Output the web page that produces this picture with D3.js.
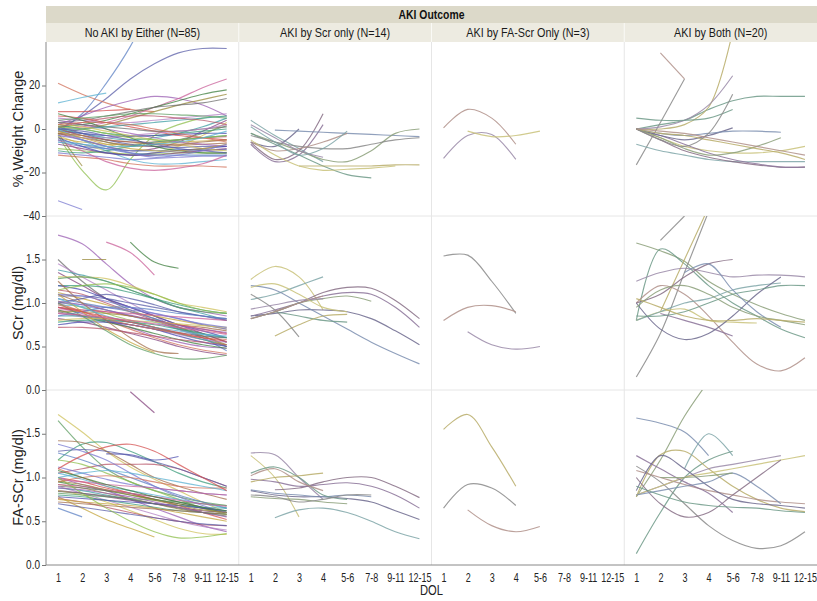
<!DOCTYPE html>
<html>
<head>
<meta charset="utf-8">
<script src="https://cdn.jsdelivr.net/npm/d3@7"></script>
<style>
  body { margin: 0; background: #fff; }
  svg { display: block; font-family: "Liberation Sans", Arial, sans-serif; }
</style>
</head>
<body>
<svg id="chart" width="817" height="601"></svg>
<script>
const W = 817, H = 601;

// categories / panels
const cats = ["1", "2", "3", "4", "5-6", "7-8", "9-11", "12-15"];
const groups = ["No AKI by Either (N=85)", "AKI by Scr only (N=14)", "AKI by FA-Scr Only (N=3)", "AKI by Both (N=20)"];
const measures = ["% Weight Change", "SCr (mg/dl)", "FA-SCr (mg/dl)"];
const yDomains = [[-40, 40], [0, 2], [0, 2]];
const yTicks = [[-40, -20, 0, 20], [0, 0.5, 1, 1.5], [0, 0.5, 1, 1.5]];
const yFormat = [d3.format("d"), d3.format(".1f"), d3.format(".1f")];

// % weight change, one row per infant, values by DOL category
const weightNoAki = [
  [0, 6, 14, 23, 30, 35, 37, 37],
  [-1, 7, 21, 38, 60],
  [-3, -19, -28, -14, -3, 2, 5, 6],
  [-33, -37],
  [21, 16, 12, 9, 8],
  [12, 14.5, 16.5],
  [8, 8, 8.5, 9],
  [2, 6, 10, 13, 15, 14, 11, 6],
  [0, 1, 3, 6, 10, 14, 19, 23],
  [1, 2, 4, 7, 10, 13, 16, 18],
  [-2, 0, 2, 5, 8, 11, 13.5, 16],
  [3, 4, 6, 8, 10, 11, 12, 14],
  [5, 4, 3, 3, 4, 5, 6, 7],
  [0, -2, -4, -5, -4, -2, 1, 5],
  [-2, -5, -8, -10, -9, -6, -1, 4],
  [-3, -7, -10, -12, -11, -8, -3, 3],
  [0, -3, -6, -8, -7, -5, -2, 1.5],
  [2, 0, -2, -3, -3, -2, -1, 0],
  [-1, -2, -3, -3.5, -3, -2.5, -2, -2],
  [0, -3, -5, -6, -6, -5, -4, -3.5],
  [-4, -6, -7, -7, -6.5, -6, -5.5, -5],
  [-2, -4, -6, -7.5, -8, -7.5, -7, -6.5],
  [1, -2, -5, -7, -8, -8.5, -8, -8],
  [-6, -8, -9, -10, -10, -9.5, -9.5, -9.5],
  [-9, -10, -11, -11.5, -11.5, -11, -11, -11],
  [-11, -12, -13, -14, -13.5, -13, -12.5, -12.5],
  [-12, -13, -14, -16, -17, -17, -17, -17.5],
  [0, -5, -10, -14, -16, -16, -15, -14],
  [6, 5, 3, 1, -1, -3, -4, -5],
  [4, 2, 0, -2, -4, -6, -7, -8],
  [-5, -10, -15, -18, -19, -18, -16, -12],
  [7, 4, 0, -4, -8, -10, -11, -11],
  [-2, -17],
  [3, 2, 1, 0, -1, -1, 0, 1],
  [-3, -4, -4, -3, -2, -1, 0, 2],
  [0, 0, 1, 2, 3, 4, 5, 6],
  [-7, -9, -11, -12, -12, -11, -10, -9],
  [2, 1, -1, -3, -5, -7, -9, -10],
  [4, 5, 6, 7, 7, 6.5, 6, 5],
  [-10, -11, -10, -8, -6, -5, -4, -3],
  [-4, -8, -11, -12, -11, -10, -9, -8],
  [1, 3, 5, 6, 6, 5, 4, 2],
  [-1, -4, -7, -9, -10, -10, -9, -7],
  [-2, -3, -5, -6, -7, -7, -6, -5],
  [0, -1, -3, -5, -7, -9, -10, -11],
  [-5, -7, -9, -11, -12, -12, -12, -12],
  [1, 0, -2, -4, -5, -5, -4, -3],
  [-3, -5, -8, -11, -13, -12, -10, -7],
  [2, 3, 3, 2, 0, -2, -4, -6],
  [-6, -7, -8, -8, -7, -6, -4, -1]
];
const weightScr = [
  [4, -3, -9, -15],
  [-6, -14, -10, 7],
  [-7, -15, -12, 2],
  [-6, -8, 0],
  [null, -0.5, -1, -1.5, -2, -2.5, -3, -3.5],
  [-2, -6, -10, -14, -15, -10, -2, 0],
  [-2, -7, -12, -17, -21, -22.5],
  [null, null, -17, -17, -17, -17, -16.5, -16.5],
  [-3, -6, -8, -9, -9, -7, -5, -4],
  [-6, -10, -9, -6, -2],
  [2, -4, -10, -13],
  [-5, -12, -17, -19, -18.5, -18, -17],
  [1, -6, -12, -9, -1]
];
const weightFa = [
  [0.5, 9, 5, -7],
  [-13.5, -3, -2.5, -14],
  [null, -1, -3.5, -3, -1]
];
const weightBoth = [
  [0, 2, 4, 9, 13, 15, 15, 15],
  [0, 0, 2, 10, 45],
  [-16.5, 3, 23],
  [null, 35, 23],
  [0, 1, 4, 11, 24.5],
  [0, -4, -8, -10, -11, -11, -10, -8],
  [-7, -10, -12, -14, -15, -15, -15, -15],
  [0, -5, -10, -13, -15, -16.5, -17.5, -17.5],
  [0, -3, -7, -11, -14, -16, -17.5, -17.5],
  [0, -3, -5, -3, 0.5],
  [0, -2, -3, -2, -1, -1, -1.5],
  [0, -4, -9, -12, -11, -8, -4],
  [5, 4, 4, 5, 9],
  [0, -2, -3, -5, -7, -9, -11, -14],
  [0, -5, -8, -2, 16],
  [0, -1, -2, -4, -6, -8, -10, -12]
];

// serum creatinine
const scrNoAki = [
  [1.78, 1.68, 1.45, 1.22, 1.05, 0.95, 0.9, 0.85],
  [null, null, 1.7, 1.58, 1.32],
  [null, null, null, 1.7, 1.47, 1.4],
  [null, 1.5, 1.5],
  [1.5, 1.25, 1.05, 0.92, 0.82, 0.72, 0.65, 0.55],
  [1.45, 1.3, 1.15, 1.0, 0.85, 0.7, 0.6, 0.5],
  [1.38, 1.32, 1.25, 1.15, 1.05, 0.95, 0.88, 0.8],
  [1.35, 1.2, 1.05, 0.95, 0.85, 0.75, 0.65, 0.55],
  [1.3, 1.3, 1.28, 1.2, 1.1, 1.0, 0.95, 0.9],
  [1.28, 1.3, 1.25, 1.15, 1.05, 0.95, 0.9, 0.88],
  [1.2, 1.2, 1.18, 1.12, 1.05, 0.98, 0.92, 0.88],
  [1.2, 1.15, 1.05, 0.95, 0.85, 0.75, 0.68, 0.6],
  [1.15, 1.1, 1.0, 0.9, 0.8, 0.7, 0.62, 0.5],
  [1.12, 1.05, 0.98, 0.9, 0.85, 0.8, 0.75, 0.7],
  [1.1, 1.0, 0.92, 0.85, 0.8, 0.75, 0.72, 0.68],
  [1.08, 1.08, 1.05, 1.0, 0.95, 0.9, 0.85, 0.8],
  [1.05, 1.0, 0.95, 0.9, 0.82, 0.72, 0.6, 0.45],
  [1.02, 0.95, 0.88, 0.8, 0.72, 0.65, 0.58, 0.52],
  [1.0, 0.98, 0.95, 0.92, 0.88, 0.82, 0.75, 0.7],
  [1.0, 0.9, 0.8, 0.7, 0.6, 0.52, 0.46, 0.42],
  [0.98, 0.96, 0.92, 0.85, 0.78, 0.7, 0.64, 0.6],
  [0.95, 0.92, 0.9, 0.85, 0.8, 0.75, 0.7, 0.65],
  [0.95, 0.88, 0.8, 0.72, 0.62, 0.55, 0.5, 0.48],
  [0.92, 0.92, 0.9, 0.88, 0.86, 0.84, 0.82, 0.8],
  [0.92, 0.85, 0.78, 0.72, 0.65, 0.58, 0.52, 0.48],
  [0.9, 0.9, 0.88, 0.85, 0.8, 0.72, 0.62, 0.52],
  [0.9, 0.85, 0.8, 0.75, 0.7, 0.66, 0.62, 0.6],
  [0.88, 0.84, 0.8, 0.75, 0.7, 0.64, 0.58, 0.55],
  [0.85, 0.85, 0.82, 0.78, 0.72, 0.65, 0.58, 0.5],
  [0.82, 0.78, 0.72, 0.65, 0.58, 0.5, 0.44, 0.4],
  [0.8, 0.82, 0.82, 0.8, 0.78, 0.76, 0.74, 0.72],
  [1.0, 0.85, 0.68, 0.52, 0.42, 0.36, 0.36, 0.4],
  [0.78, 0.8, 0.8, 0.78, 0.75, 0.7, 0.65, 0.6],
  [0.75, 0.78, 0.78, 0.75, 0.7, 0.62, 0.55, 0.5],
  [0.72, 0.72, 0.7, 0.66, 0.62, 0.58, 0.55, 0.52],
  [1.1, 0.9, 0.7, 0.55, 0.43],
  [1.25, 1.0, 0.8, 0.6, 0.45, 0.42],
  [1.0, 1.05, 1.1, 1.05, 0.98, 0.9, 0.85, 0.82],
  [0.85, 0.9, 0.95, 0.95, 0.92, 0.88, 0.85, 0.82],
  [1.15, 1.2, 1.22, 1.18, 1.1, 1.0, 0.92, 0.88],
  [1.1, 1.08, 1.02, 0.95, 0.88, 0.82, 0.76, 0.72],
  [0.98, 0.9, 0.82, 0.75, 0.7, 0.65, 0.6, 0.58],
  [1.05, 0.95, 0.85, 0.78, 0.72, 0.68, 0.64, 0.62],
  [0.95, 0.9, 0.84, 0.78, 0.72, 0.66, 0.6, 0.56],
  [1.02, 0.98, 0.92, 0.86, 0.8, 0.74, 0.7, 0.66],
  [0.88, 0.86, 0.83, 0.8, 0.76, 0.72, 0.68, 0.64]
];
const scrScr = [
  [1.27, 1.42, 1.3, 0.92],
  [1.04, 1.1, 1.2, 1.3],
  [0.82, 0.9, 1.0, 1.12, 1.18, 1.17, 1.03, 0.82],
  [0.85, 0.92, 1.0, 1.08, 1.12, 1.1, 0.95, 0.72],
  [0.85, 0.88, 0.92, 0.92, 0.9, 0.82, 0.68, 0.52],
  [1.2, 1.15, 1.0, 0.85, 0.7, 0.55, 0.42, 0.3],
  [0.82, 0.9, 1.0, 1.05, 1.08, 1.02],
  [null, 0.9, 0.85, 0.8, 0.78],
  [null, 0.62, 0.75, 0.85, 0.87],
  [1.1, 0.92, 0.61],
  [0.82, 0.9, 1.0, 1.08],
  [0.93, 0.98, 1.03, 1.05],
  [1.18, 1.22, 1.1, 0.95, 0.9]
];
const scrFa = [
  [1.54, 1.55, 1.25, 0.88],
  [0.8, 0.95, 0.97, 0.9],
  [null, 0.67, 0.52, 0.47, 0.5]
];
const scrBoth = [
  [1.69, 1.6, 1.48, 1.25, 1.1, 0.98, 0.88, 0.8],
  [0.8, 1.62, 1.45, 1.2, 1.0, 0.85, 0.7, 0.6],
  [null, 0.9, 1.5, 2.1],
  [0.15, 0.65, 1.35, 2.05],
  [1.0, 1.2, 1.1, 0.85, 0.55, 0.3, 0.22, 0.37],
  [1.25, 1.35, 1.4, 1.35, 1.3, 1.32, 1.32, 1.3],
  [0.8, 0.9, 0.93, 0.8, 0.78, 0.77],
  [0.8, 0.9, 1.0, 1.05, 1.15, 1.2, 1.23],
  [1.0, 1.1, 1.3, 1.45, 1.5],
  [null, 0.88, 0.8, 0.72, 0.62],
  [1.0, 0.7, 0.58, 0.65, 0.85, 1.1, 1.3],
  [null, null, 1.35, 1.45, 1.15, 0.9, 0.72],
  [0.95, 1.15, 1.2, 1.1, 0.95, 0.85, 0.8, 0.75],
  [0.85, 0.85, 0.9, 1.0, 1.1, 1.15, 1.2, 1.2],
  [1.05, 0.95, 0.85, 0.8, 0.8, 0.82, 0.8, 0.78],
  [null, 1.72, 2.0]
];

// functional-adjusted serum creatinine
const faNoAki = [
  [null, null, null, 1.98, 1.74],
  [1.72, 1.52, 1.3, 1.12, 0.98, 0.85, 0.72, 0.6],
  [1.65, 1.35, 1.1, 0.95, 0.85, 0.78, 0.72, 0.68],
  [1.2, 1.38, 1.4, 1.3, 1.18, 1.05, 0.95, 0.88],
  [null, null, 1.27, 1.26, 1.2, 1.24],
  [1.05, 1.1, 1.15, 1.15, 1.15, 1.1, 1.0, 0.9],
  [0.78, 0.65, 0.52, 0.42, 0.32],
  [1.42, 1.4, 1.3, 1.15, 1.0, 0.9, 0.82, 0.75],
  [1.3, 1.32, 1.3, 1.25, 1.18, 1.1, 1.0, 0.9],
  [1.28, 1.2, 1.1, 1.0, 0.9, 0.8, 0.72, 0.65],
  [1.2, 1.15, 1.05, 0.95, 0.85, 0.75, 0.65, 0.58],
  [1.12, 1.05, 0.98, 0.92, 0.88, 0.85, 0.82, 0.8],
  [1.1, 1.0, 0.9, 0.82, 0.75, 0.7, 0.65, 0.6],
  [1.05, 0.98, 0.9, 0.85, 0.8, 0.75, 0.7, 0.65],
  [1.0, 0.95, 0.88, 0.82, 0.75, 0.68, 0.6, 0.52],
  [1.0, 0.92, 0.85, 0.75, 0.65, 0.55, 0.45, 0.38],
  [0.98, 0.95, 0.92, 0.9, 0.88, 0.85, 0.82, 0.8],
  [0.95, 0.9, 0.85, 0.8, 0.75, 0.7, 0.65, 0.6],
  [0.92, 0.88, 0.82, 0.76, 0.7, 0.64, 0.6, 0.58],
  [0.9, 0.88, 0.85, 0.82, 0.78, 0.72, 0.66, 0.6],
  [0.9, 0.82, 0.74, 0.66, 0.58, 0.5, 0.44, 0.4],
  [0.88, 0.85, 0.8, 0.75, 0.7, 0.68, 0.66, 0.65],
  [0.85, 0.82, 0.78, 0.74, 0.7, 0.66, 0.62, 0.6],
  [0.85, 0.8, 0.72, 0.62, 0.52, 0.42, 0.36, 0.35],
  [0.82, 0.8, 0.78, 0.76, 0.74, 0.72, 0.7, 0.68],
  [0.8, 0.78, 0.74, 0.7, 0.66, 0.62, 0.6, 0.58],
  [0.78, 0.76, 0.74, 0.72, 0.7, 0.68, 0.65, 0.62],
  [0.76, 0.72, 0.66, 0.6, 0.54, 0.5, 0.46, 0.45],
  [0.75, 0.72, 0.7, 0.68, 0.65, 0.6, 0.55, 0.5],
  [0.72, 0.7, 0.68, 0.66, 0.64, 0.62, 0.6, 0.58],
  [0.7, 0.66, 0.62, 0.58, 0.54, 0.5, 0.47, 0.45],
  [0.65, 0.55],
  [1.0, 0.82, 0.65, 0.5, 0.38, 0.31, 0.32, 0.36],
  [1.38, 1.3, 1.2, 1.05, 0.9, 0.78, 0.68, 0.6],
  [0.95, 1.0, 1.02, 1.0, 0.95, 0.9, 0.88, 0.88],
  [1.0, 1.05, 1.08, 1.05, 1.0, 0.95, 0.9, 0.85],
  [1.1, 1.25, 1.35, 1.38, 1.3, 1.15, 1.0, 0.85],
  [0.88, 0.86, 0.82, 0.78, 0.72, 0.66, 0.6, 0.55],
  [0.92, 0.9, 0.86, 0.82, 0.78, 0.74, 0.7, 0.67],
  [1.08, 1.0, 0.92, 0.85, 0.78, 0.72, 0.66, 0.62],
  [0.96, 0.92, 0.86, 0.8, 0.74, 0.68, 0.63, 0.6],
  [0.84, 0.82, 0.79, 0.75, 0.7, 0.65, 0.6, 0.56]
];
const faScr = [
  [1.28, 1.26, 1.0, 0.75],
  [1.25, 1.0, 0.55],
  [null, 0.54, 0.63, 0.65, 0.6, 0.5, 0.38, 0.3],
  [null, 0.86, 0.88, 0.95, 1.0, 1.0, 0.9, 0.77],
  [0.98, 0.95, 0.9, 0.92, 0.94, 0.9, 0.8, 0.65],
  [0.85, 0.8, 0.78, 0.78, 0.76, 0.72, 0.62, 0.52],
  [0.86, 0.82, 0.8, 0.78, 0.8, 0.78],
  [0.78, 0.76, 0.75, 0.72, 0.7],
  [1.05, 1.12, 1.0, 0.8, 0.75],
  [0.95, 1.0, 1.02, 1.05],
  [0.8, 0.78, 0.72, 0.75, 0.8, 0.8],
  [1.02, 1.1, 0.95, 0.85]
];
const faFa = [
  [1.55, 1.72, 1.35, 0.9],
  [0.65, 0.92, 0.88, 0.68],
  [null, 0.63, 0.45, 0.38, 0.44]
];
const faBoth = [
  [1.68, 1.62, 1.52, 1.25],
  [0.78, 1.2, 1.7, 2.1],
  [0.13, 0.6, 1.0, 1.2, 1.3],
  [0.78, 1.26, 1.3, 1.1, 0.9, 0.75, 0.65, 0.61],
  [1.13, 0.95, 0.7, 0.45, 0.28, 0.19, 0.22, 0.38],
  [1.08, 1.0, 0.92, 0.85, 0.8, 0.75, 0.72, 0.7],
  [0.8, 0.9, 1.0, 1.1, 1.15, 1.2, 1.25],
  [0.8, 0.9, 1.0, 1.05, 1.1, 1.15, 1.2, 1.25],
  [null, null, 1.1, 1.5, 1.25],
  [1.0, 0.7, 0.55, 0.6, 0.8, 1.0, 1.2],
  [1.25, 1.1, 0.95, 0.82, 0.6],
  [0.85, 1.25, 1.1, 0.9, 0.75, 0.7, 0.68, 0.65],
  [0.8, 0.85, 0.9, 0.95, 1.05, 0.9, 0.7],
  [null, 1.0, 1.0, 1.02, 1.05],
  [0.9, 0.8, 0.72, 0.68, 0.66, 0.65, 0.62, 0.6]
];

const panels = [
  [weightNoAki, weightScr, weightFa, weightBoth],
  [scrNoAki, scrScr, scrFa, scrBoth],
  [faNoAki, faScr, faFa, faBoth]
];

const palette = ["#5b5fa8", "#b8576b", "#5f9e63", "#3f9ea3", "#9a8b3c", "#9b5fb3", "#d0705a", "#5d82c4",
  "#c4a53e", "#3d9c7c", "#86467f", "#6f6f6f", "#c9609a", "#5cb2d2", "#8fbf4d", "#a4714f",
  "#4c4cae", "#cfc25c", "#b382c4", "#3f7f3f", "#d45050", "#7a7ad0"];
// later columns look more washed out in the source
const mutedPalette = ["#6d6a8e", "#9a8aa8", "#8ca07a", "#7fa6a8", "#b9ad6a", "#8b7399", "#b0908a", "#7d8fb0",
  "#c9c27a", "#6f9a88", "#876f86", "#8a8a8a"];

// layout
const left = 46, right = 817;
const rowEdges = [42, 216, 390, 565];
const colW = (right - left) / 4;
const squeeze = 0.8; // narrow the text like the original condensed face

const svg = d3.select("#chart");
svg.append("rect").attr("width", W).attr("height", H).attr("fill", "#fff");

// header bands
svg.append("rect").attr("x", left).attr("y", 6).attr("width", right - left).attr("height", 17).attr("fill", "#dcd9c9");
svg.append("rect").attr("x", left).attr("y", 23).attr("width", right - left).attr("height", 19).attr("fill", "#edebe1");
svg.append("text")
  .attr("transform", `translate(${(left + right) / 2},19) scale(${squeeze},1)`)
  .attr("text-anchor", "middle").attr("font-size", 13).attr("font-weight", "bold").attr("fill", "#111")
  .text("AKI Outcome");

groups.forEach((g, c) => {
  const x0 = left + c * colW;
  if (c > 0) {
    svg.append("line").attr("x1", x0).attr("x2", x0).attr("y1", 23).attr("y2", 42)
      .attr("stroke", "#fafaf6").attr("stroke-width", 1);
  }
  svg.append("text")
    .attr("transform", `translate(${x0 + colW / 2},37) scale(${squeeze},1)`)
    .attr("text-anchor", "middle").attr("font-size", 13.5).attr("fill", "#1a1a1a")
    .text(g);
});

// grid separators
for (let c = 1; c < 4; c++) {
  const x0 = left + c * colW;
  svg.append("line").attr("x1", x0).attr("x2", x0).attr("y1", 42).attr("y2", 565)
    .attr("stroke", "#e6e6e6");
}
[216, 390].forEach(y => {
  svg.append("line").attr("x1", left).attr("x2", right).attr("y1", y).attr("y2", y).attr("stroke", "#e6e6e6");
});

const defs = svg.append("defs");

panels.forEach((row, r) => {
  const y = d3.scaleLinear().domain(yDomains[r]).range([rowEdges[r + 1], rowEdges[r]]);

  // y axis
  const yAxis = svg.append("g")
    .attr("transform", `translate(${left},0)`)
    .call(d3.axisLeft(y).tickValues(yTicks[r]).tickFormat(yFormat[r]).tickSize(4).tickPadding(2));
  yAxis.select(".domain").remove();
  yAxis.selectAll("line").attr("stroke", "#777");
  yAxis.selectAll("text")
    .attr("x", null)
    .attr("transform", `translate(-6,0) scale(${squeeze},1)`)
    .attr("font-size", 12.5).attr("fill", "#222").attr("dy", "0.25em");

  svg.append("text")
    .attr("transform", `translate(23,${(rowEdges[r] + rowEdges[r + 1]) / 2}) rotate(-90)`)
    .attr("text-anchor", "middle")
    .attr("font-size", 14.5).attr("fill", "#222")
    .text(measures[r]);

  row.forEach((series, c) => {
    const x0 = left + c * colW;
    const x = d3.scalePoint().domain(cats).range([x0, x0 + colW]).padding(0.5);
    const clipId = `clip-${r}-${c}`;
    defs.append("clipPath").attr("id", clipId)
      .append("rect").attr("x", x0).attr("y", rowEdges[r]).attr("width", colW).attr("height", rowEdges[r + 1] - rowEdges[r]);

    const line = d3.line()
      .defined(d => d != null)
      .x((d, i) => x(cats[i]))
      .y(d => y(d))
      .curve(d3.curveCatmullRom.alpha(0.5));

    const pal = c === 0 ? palette : mutedPalette;
    svg.append("g").attr("clip-path", `url(#${clipId})`)
      .selectAll("path")
      .data(series)
      .join("path")
      .attr("d", line)
      .attr("fill", "none")
      .attr("stroke", (d, i) => pal[(i * 7 + c * 3 + r * 5) % pal.length])
      .attr("stroke-width", 1.15)
      .attr("stroke-opacity", c === 0 ? 0.75 : 0.85);
  });
});

// axes frame
svg.append("line").attr("x1", left).attr("x2", left).attr("y1", 42).attr("y2", 565).attr("stroke", "#888");
svg.append("line").attr("x1", left).attr("x2", right).attr("y1", 565).attr("y2", 565).attr("stroke", "#888");

// x axes
groups.forEach((g, c) => {
  const x0 = left + c * colW;
  const x = d3.scalePoint().domain(cats).range([x0, x0 + colW]).padding(0.5);
  const xAxis = svg.append("g")
    .attr("transform", `translate(0,565)`)
    .call(d3.axisBottom(x).tickSize(0).tickPadding(6));
  xAxis.select(".domain").remove();
  xAxis.selectAll("text")
    .attr("y", null).attr("dy", null)
    .attr("transform", `translate(0,17) scale(0.72,1)`)
    .attr("font-size", 12.5).attr("fill", "#222");
});

svg.append("text")
  .attr("transform", `translate(${(left + right) / 2},595) scale(${squeeze},1)`)
  .attr("text-anchor", "middle").attr("font-size", 14).attr("fill", "#222")
  .text("DOL");
</script>
</body>
</html>
